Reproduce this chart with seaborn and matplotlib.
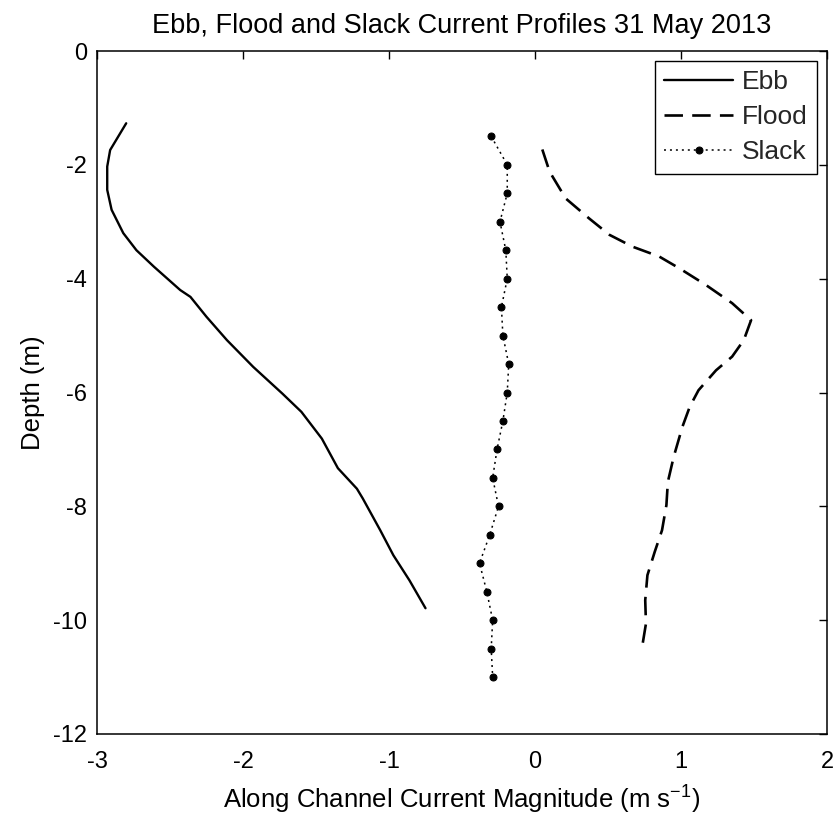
import matplotlib
matplotlib.use("Agg")
import matplotlib.pyplot as plt
import numpy as np
import pandas as pd
import seaborn as sns

# ---- data ----
ebb_speed = [-2.80, -2.91, -2.93, -2.93, -2.90, -2.82, -2.73, -2.61, -2.43, -2.36,
             -2.25, -2.11, -1.93, -1.73, -1.60, -1.46, -1.35, -1.22, -1.18, -1.06,
             -0.97, -0.86, -0.75]
ebb_depth = [-1.27, -1.74, -2.03, -2.44, -2.79, -3.20, -3.50, -3.79, -4.20, -4.32,
             -4.67, -5.08, -5.55, -6.02, -6.34, -6.81, -7.33, -7.69, -7.86, -8.42,
             -8.86, -9.30, -9.79]

flood_speed = [0.05, 0.10, 0.21, 0.37, 0.51, 0.67, 0.85, 0.99, 1.17, 1.35, 1.48,
               1.43, 1.35, 1.24, 1.12, 1.06, 1.01, 0.95, 0.91, 0.90, 0.87, 0.82,
               0.77, 0.755, 0.76, 0.73]
flood_depth = [-1.73, -2.12, -2.59, -2.94, -3.23, -3.44, -3.61, -3.82, -4.11, -4.43,
               -4.73, -5.08, -5.37, -5.61, -5.96, -6.25, -6.60, -7.13, -7.57, -7.98,
               -8.42, -8.80, -9.21, -9.65, -10.06, -10.53]

slack_speed = [-0.30, -0.19, -0.19, -0.24, -0.20, -0.19, -0.23, -0.22, -0.18, -0.19,
               -0.22, -0.26, -0.29, -0.25, -0.31, -0.38, -0.33, -0.29, -0.30, -0.29]
slack_depth = [-1.5, -2.0, -2.5, -3.0, -3.5, -4.0, -4.5, -5.0, -5.5, -6.0,
               -6.5, -7.0, -7.5, -8.0, -8.5, -9.0, -9.5, -10.0, -10.5, -11.0]

x_ticks = [-3, -2, -1, 0, 1, 2]
y_ticks = [-12, -10, -8, -6, -4, -2, 0]

title = "Ebb, Flood and Slack Current Profiles 31 May 2013"
xlabel = r"Along Channel Current Magnitude (m s$^{\mathregular{-1}}$)"
ylabel = "Depth (m)"

ebb = pd.DataFrame({"speed": ebb_speed, "depth": ebb_depth})
flood = pd.DataFrame({"speed": flood_speed, "depth": flood_depth})
slack = pd.DataFrame({"speed": slack_speed, "depth": slack_depth})

sns.set_theme(style="white")
plt.rcParams["font.family"] = ["Liberation Sans", "DejaVu Sans"]
plt.rcParams["axes.unicode_minus"] = False
plt.rcParams["mathtext.fontset"] = "custom"
plt.rcParams["mathtext.rm"] = "Liberation Sans"
plt.rcParams["mathtext.it"] = "Liberation Sans:italic"
plt.rcParams["mathtext.bf"] = "Liberation Sans:bold"

fig = plt.figure(figsize=(8.38, 8.16), dpi=100)
ax = fig.add_axes([97 / 838, (816 - 734) / 816, (827 - 97) / 838, (734 - 51) / 816])

sns.lineplot(data=ebb, x="speed", y="depth", sort=False, estimator=None, orient="y",
             ax=ax, color="black", linewidth=1.7, label="Ebb")
sns.lineplot(data=flood, x="speed", y="depth", sort=False, estimator=None, orient="y",
             ax=ax, color="black", linewidth=1.9, label="Flood")
ax.lines[-1].set_linestyle((0, (7, 3.5)))
sns.lineplot(data=slack, x="speed", y="depth", sort=False, estimator=None, orient="y",
             ax=ax, color="black", linewidth=1.1, label="Slack",
             marker="o", markersize=5, markerfacecolor="black", markeredgecolor="black")
ax.lines[-1].set_linestyle((0, (1.3, 2.6)))

ax.set_xlim(-3, 2)
ax.set_ylim(-12, 0)
ax.set_xticks(x_ticks)
ax.set_yticks(y_ticks)
ax.set_xticklabels([str(t) for t in x_ticks])
ax.set_yticklabels([str(t) for t in y_ticks])

ax.tick_params(direction="in", length=6, width=1, top=True, right=True,
               labelsize=17, colors="black")
ax.tick_params(axis="x", pad=12)
ax.tick_params(axis="y", pad=7)
for s in ax.spines.values():
    s.set_color("black")
    s.set_linewidth(1.1)

ax.set_title(title, fontsize=19.5, pad=13, color="black")
ax.set_xlabel(xlabel, fontsize=18.5, labelpad=8, color="black")
ax.set_ylabel(ylabel, fontsize=18.5, labelpad=6, color="black")

leg = ax.legend(loc="upper right", fontsize=19, frameon=True, fancybox=False,
                handlelength=2.6, handletextpad=0.34, borderaxespad=0.38,
                labelspacing=0.42, borderpad=0.35)
leg.get_frame().set_edgecolor("black")
leg.get_frame().set_linewidth(1.0)
leg.get_frame().set_alpha(1)

fig.savefig("out.png", dpi=100, facecolor="white")
